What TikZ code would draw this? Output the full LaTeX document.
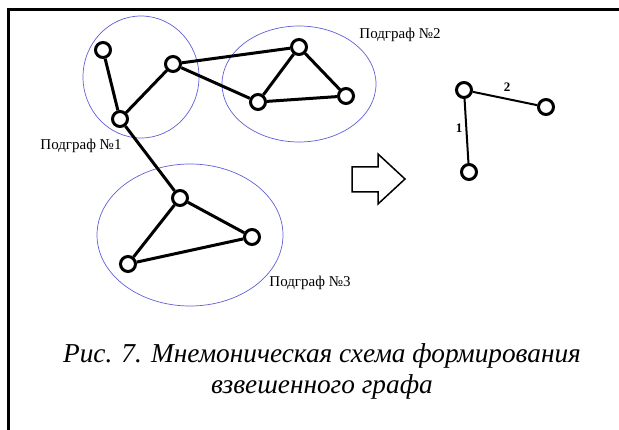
\documentclass[tikz,border=0pt]{standalone}
\usepackage{fontspec}
\setmainfont{Liberation Serif}[ItalicFont={Liberation Serif Italic},BoldFont={Liberation Serif Bold}]
\newfontfamily\capfont{Liberation Serif Italic}
\definecolor{groupblue}{RGB}{95,95,215}
\begin{document}
\begin{tikzpicture}[x=1pt,y=-1pt,
  vertex/.style={circle,draw=black,fill=white,line width=3pt,minimum size=15pt,inner sep=0pt},
  edge/.style={line width=3pt},
  thinedge/.style={line width=2pt},
  group/.style={draw=groupblue,line width=0.7pt},
  grouplabel/.style={font=\fontsize{15}{17}\selectfont,inner sep=0pt},
  weight/.style={font=\bfseries\fontsize{13}{15}\selectfont,inner sep=0pt}]
\useasboundingbox (0,0) rectangle (619,430);
% frame
\draw[line width=2.5pt] (8.5,432) -- (8.5,9.5) -- (621,9.5);
% subgraph regions
\draw[group] (141,77) ellipse [x radius=58, y radius=61];
\draw[group] (299,84) ellipse [x radius=77, y radius=58];
\draw[group] (190,235) ellipse [x radius=93, y radius=71];
\node[grouplabel] (l1) at (81,146) {Подграф №1};
\node[grouplabel] (l2) at (400,35) {Подграф №2};
\node[grouplabel] (l3) at (310,283) {Подграф №3};
% vertices of the source graph
\node[vertex] (a) at (103,50) {};
\node[vertex] (b) at (173,64) {};
\node[vertex] (c) at (120,119) {};
\node[vertex] (d) at (299,47) {};
\node[vertex] (e) at (258,102) {};
\node[vertex] (f) at (346,96) {};
\node[vertex] (g) at (180,198) {};
\node[vertex] (h) at (252,237) {};
\node[vertex] (i) at (128,264) {};
% edges of the source graph
\draw[edge] (a) -- (c);
\draw[edge] (c) -- (b);
\draw[edge] (b) -- (d);
\draw[edge] (b) -- (e);
\draw[edge] (d) -- (e);
\draw[edge] (d) -- (f);
\draw[edge] (e) -- (f);
\draw[edge] (c) -- (g);
\draw[edge] (g) -- (h);
\draw[edge] (g) -- (i);
\draw[edge] (h) -- (i);
% block arrow
\draw[line width=1.5pt,fill=white] (352,167) -- (378,167) -- (378,154) -- (405,179)
  -- (378,204) -- (378,192) -- (352,192) -- cycle;
% weighted graph
\node[vertex] (p) at (464,90) {};
\node[vertex] (q) at (546,107) {};
\node[vertex] (r) at (469,172) {};
\draw[thinedge] (p) -- (q);
\draw[thinedge] (p) -- (r);
\node[weight] (w1) at (459,128) {1};
\node[weight] (w2) at (507,87) {2};
% caption
\node[font=\capfont\fontsize{27.3}{31}\selectfont,align=center,inner sep=0pt] (cap) at (322,371)
  {Рис. 7. Мнемоническая схема формирования\\взвешенного графа};
\end{tikzpicture}
\end{document}
